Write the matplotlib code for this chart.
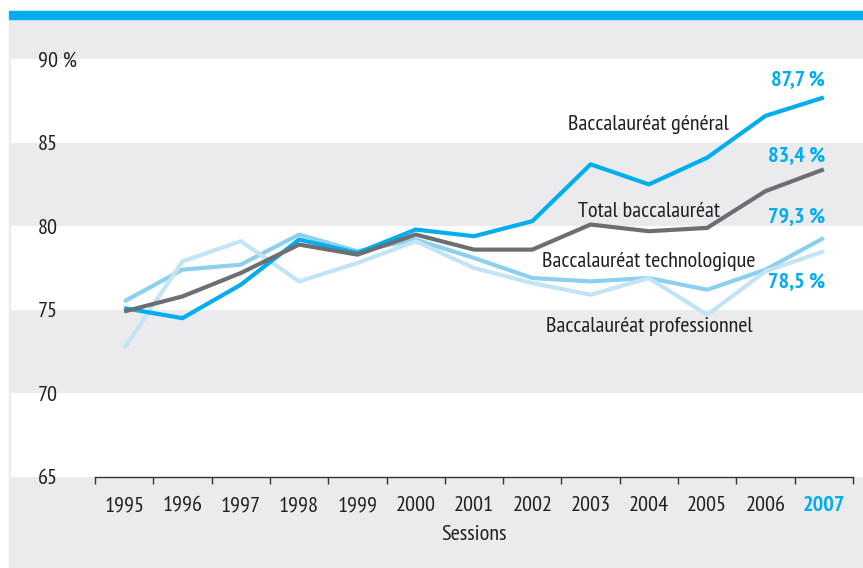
import numpy as np
import matplotlib.pyplot as plt
from matplotlib.patches import Rectangle

plt.rcParams['font.family'] = ['PT Sans Narrow', 'Roboto Condensed', 'DejaVu Sans']

years = np.arange(1995, 2008)
general = [75.1, 74.5, 76.5, 79.2, 78.4, 79.8, 79.4, 80.3, 83.7, 82.5, 84.1, 86.6, 87.7]
total = [74.9, 75.8, 77.2, 78.9, 78.3, 79.5, 78.6, 78.6, 80.1, 79.7, 79.9, 82.1, 83.4]
techno = [75.5, 77.4, 77.7, 79.5, 78.5, 79.2, 78.1, 76.9, 76.7, 76.9, 76.2, 77.4, 79.3]
pro = [72.7, 77.9, 79.1, 76.7, 77.8, 79.1, 77.5, 76.6, 75.9, 76.9, 74.7, 77.3, 78.5]
yticks = [65, 70, 75, 80, 85, 90]
ylabels = ['65', '70', '75', '80', '85', '90 %']

blue = '#00AEEF'
grey = '#6D6E71'
mid = '#8DD0EE'
light = '#C2E4F3'
bg = '#EBEBED'
txt = '#231F20'
fs = 16

W, H = 863, 568
fig = plt.figure(figsize=(W / 100, H / 100), dpi=100)
fig.patches.append(Rectangle((9 / W, 0), 1 - 9 / W, (H - 19) / H,
                             transform=fig.transFigure, color=bg, zorder=-10))
fig.patches.append(Rectangle((9 / W, (H - 19) / H), 1 - 9 / W, 8 / H,
                             transform=fig.transFigure, color=blue, zorder=-10))

ax = fig.add_axes([95 / W, (H - 477) / H, (853 - 95) / W, (477 - 59) / H])
ax.patch.set_visible(False)
ax.set_xlim(1994.5, 2007.5)
ax.set_ylim(65, 90)

# bandes blanches
for lo in (65, 75, 85):
    ax.axhspan(lo, lo + 5, xmin=-84 / 758, xmax=1 + 10 / 758, color='white',
               clip_on=False, zorder=0, lw=0)

ax.plot(years, techno, color=mid, lw=3, solid_capstyle='butt', zorder=2)
ax.plot(years, pro, color=light, lw=3, solid_capstyle='butt', zorder=2)
ax.plot(years, general, color=blue, lw=3, solid_capstyle='butt', zorder=3)
ax.plot(years, total, color=grey, lw=3, solid_capstyle='butt', zorder=4)

for s in ('top', 'right', 'left'):
    ax.spines[s].set_visible(False)
ax.spines['bottom'].set_color('#333333')
ax.spines['bottom'].set_linewidth(1)

ax.set_xticks(np.arange(1994.5, 2008, 1))
ax.set_xticklabels([])
ax.tick_params(axis='x', which='major', length=5, width=1, color='#333333', direction='out')
ax.set_xticks(years, minor=True)
ax.set_xticklabels([str(y) for y in years], minor=True, fontsize=fs, color=txt)
ax.tick_params(axis='x', which='minor', length=0, pad=14)
last = ax.get_xticklabels(minor=True)[-1]
last.set_color(blue)
last.set_fontweight('bold')

ax.set_yticks(yticks)
ax.set_yticklabels(ylabels, fontsize=fs, color=txt, ha='left')
ax.tick_params(axis='y', length=0, pad=41)

ax.set_xlabel('Sessions', fontsize=fs, color=txt, labelpad=7)

ax.text(2004.0, 86.1, 'Baccalauréat général', fontsize=fs, color=txt, ha='center', va='center')
ax.text(2004.0, 80.85, 'Total baccalauréat', fontsize=fs, color=txt, ha='center', va='center')
ax.text(2004.0, 77.9, 'Baccalauréat technologique', fontsize=fs, color=txt, ha='center', va='center')
ax.text(2004.0, 74.0, 'Baccalauréat professionnel', fontsize=fs, color=txt, ha='center', va='center')

for v, y in ((general[-1], 88.75), (total[-1], 84.2), (techno[-1], 80.55), (pro[-1], 76.7)):
    ax.text(2007.02, y, f'{v:.1f} %'.replace('.', ','), fontsize=fs, fontweight='bold',
            color=blue, ha='right', va='center')

fig.savefig('out.png', dpi=100)
